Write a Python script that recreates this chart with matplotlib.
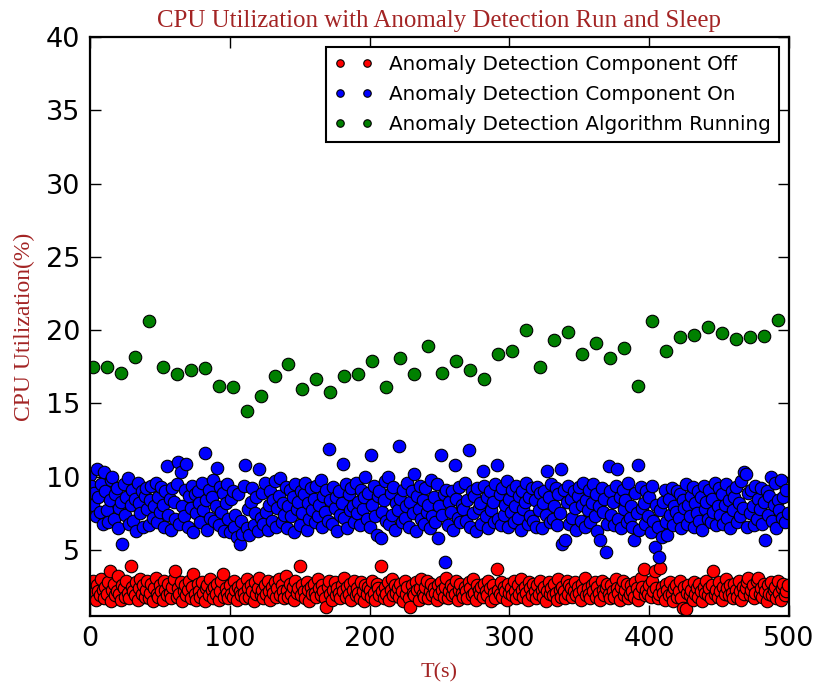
import numpy as np
import matplotlib
matplotlib.use('Agg')
import matplotlib.pyplot as plt

# time axis for the per-second samples, green samples every 10 s
seconds = np.arange(500)
run_seconds = np.arange(2, 500, 10)

cpu_off = [
    2.4, 1.8, 2.9, 2.1, 1.6, 2.6, 2.2, 1.9, 3.0, 2.3,
    1.7, 2.5, 2.0, 2.8, 3.6, 1.5, 2.3, 2.7, 1.9, 2.2,
    3.2, 2.0, 1.6, 2.6, 2.4, 1.8, 2.9, 2.1, 1.7, 3.9,
    2.5, 2.2, 1.9, 2.8, 1.6, 2.4, 3.0, 2.0, 2.6, 1.8,
    2.3, 2.9, 1.7, 2.1, 2.7, 1.5, 2.4, 3.1, 2.0, 1.8,
    2.6, 2.2, 1.6, 2.9, 2.3, 1.9, 2.7, 2.1, 1.7, 2.5,
    3.0, 3.6, 1.8, 2.4, 2.0, 2.8, 1.5, 2.2, 2.6, 1.9,
    2.3, 2.9, 1.7, 2.5, 3.4, 2.0, 1.6, 2.7, 2.2, 1.8,
    2.8, 2.1, 1.5, 2.4, 2.6, 1.9, 3.0, 2.3, 1.7, 2.5,
    2.0, 2.7, 1.6, 2.2, 2.9, 3.4, 1.8, 2.4, 2.1, 1.7,
    2.6, 2.0, 1.8, 2.9, 2.3, 1.6, 2.5, 2.2, 1.9, 2.7,
    2.1, 1.7, 3.0, 2.4, 1.8, 2.6, 2.2, 1.5, 2.8, 2.0,
    2.4, 3.1, 1.9, 2.3, 1.7, 2.6, 2.0, 2.9, 2.2, 1.6,
    2.5, 2.1, 2.8, 1.8, 2.4, 3.0, 1.9, 2.6, 2.2, 1.7,
    3.2, 2.3, 1.8, 2.7, 2.0, 2.5, 1.6, 2.9, 2.1, 2.4,
    3.9, 1.9, 2.6, 2.2, 1.7, 2.8, 2.3, 1.5, 2.5, 2.0,
    2.7, 2.1, 1.8, 3.0, 2.4, 1.9, 2.6, 2.2, 1.7, 1.1,
    2.5, 2.9, 2.0, 1.6, 2.3, 2.8, 1.9, 2.4, 2.1, 1.7,
    2.6, 2.2, 3.1, 1.8, 2.5, 2.0, 2.7, 1.6, 2.3, 2.9,
    1.9, 2.4, 2.1, 1.7, 2.8, 2.2, 1.5, 2.6, 2.0, 2.5,
    2.3, 1.8, 2.9, 2.1, 1.6, 2.7, 2.4, 1.9, 3.9, 2.2,
    1.7, 2.5, 2.0, 2.8, 1.6, 2.3, 3.0, 1.9, 2.6, 2.1,
    2.4, 1.8, 2.7, 2.2, 1.5, 2.9, 2.0, 2.5, 1.7, 1.1,
    2.6, 2.1, 1.9, 2.8, 2.3, 1.6, 2.4, 3.0, 2.0, 1.8,
    2.5, 2.9, 1.7, 2.2, 2.7, 1.9, 2.4, 2.1, 1.6, 2.6,
    2.0, 2.8, 2.3, 1.8, 2.5, 3.1, 1.7, 2.2, 2.6, 1.9,
    2.4, 2.0, 2.9, 1.6, 2.3, 2.7, 2.1, 1.8, 2.5, 2.2,
    1.7, 2.8, 2.4, 1.9, 3.0, 2.1, 1.6, 2.6, 2.3, 2.0,
    2.5, 1.8, 2.7, 2.2, 1.9, 2.9, 2.4, 1.5, 2.6, 2.1,
    1.7, 3.7, 2.3, 2.0, 2.8, 1.8, 2.5, 2.2, 1.6, 2.7,
    2.1, 2.4, 1.9, 2.9, 2.2, 1.7, 2.6, 2.0, 3.0, 2.3,
    1.8, 2.5, 2.1, 1.6, 2.8, 2.4, 1.9, 2.7, 2.2, 1.7,
    2.6, 2.0, 2.9, 2.3, 1.8, 2.5, 1.5, 2.2, 2.8, 2.0,
    2.4, 1.9, 2.7, 2.1, 1.6, 3.0, 2.3, 1.8, 2.5, 2.2,
    1.7, 2.9, 2.0, 2.6, 2.4, 1.8, 2.2, 2.8, 1.9, 2.5,
    2.1, 1.6, 2.7, 2.3, 3.1, 1.9, 2.4, 2.0, 1.7, 2.6,
    2.2, 2.8, 1.8, 2.5, 2.1, 1.6, 2.9, 2.3, 1.9, 2.4,
    2.7, 2.0, 1.7, 2.6, 2.2, 1.8, 3.0, 2.4, 2.1, 1.6,
    2.5, 2.9, 1.9, 2.3, 2.7, 1.7, 2.0, 2.6, 2.2, 1.8,
    2.8, 2.4, 1.6, 2.1, 3.1, 2.5, 3.7, 1.9, 2.3, 2.0,
    2.6, 1.8, 2.9, 2.2, 3.6, 2.4, 1.7, 2.0, 3.8, 2.5,
    2.1, 1.6, 2.7, 2.3, 1.9, 2.8, 2.0, 1.5, 2.4, 2.6,
    1.8, 2.2, 2.9, 1.7, 1.05, 2.5, 0.95, 2.1, 2.6, 1.9,
    2.3, 1.6, 2.8, 2.0, 2.4, 1.8, 2.7, 2.2, 1.5, 2.5,
    2.1, 2.9, 1.9, 2.4, 1.7, 2.6, 3.6, 2.0, 2.3, 1.8,
    2.8, 2.2, 1.6, 2.5, 2.0, 3.0, 2.4, 1.9, 2.6, 2.1,
    1.7, 2.7, 2.3, 1.8, 2.9, 2.2, 1.6, 2.5, 2.0, 2.4,
    2.8, 3.1, 1.9, 2.3, 2.6, 1.7, 2.1, 2.9, 3.1, 2.0,
    2.4, 1.8, 2.7, 2.2, 1.5, 2.6, 2.0, 2.8, 1.9, 2.3,
    2.5, 1.7, 2.9, 2.1, 1.6, 2.4, 2.7, 1.9, 2.2, 2.6,
]

cpu_on = [
    10.1, 9.4, 8.1, 8.9, 7.3, 10.5, 8.6, 7.6, 9.5, 6.8,
    10.3, 9.0, 7.7, 6.9, 8.4, 9.8, 10.0, 7.1, 8.8, 9.2,
    6.5, 7.9, 8.3, 5.4, 9.5, 7.4, 8.6, 9.9, 6.8, 8.1,
    9.1, 7.0, 8.5, 6.3, 9.6, 8.2, 7.5, 9.0, 6.6, 8.7,
    9.2, 7.8, 6.7, 8.4, 9.4, 7.2, 8.0, 9.6, 6.9, 8.6,
    7.6, 9.3, 8.1, 6.6, 9.0, 10.7, 7.4, 8.5, 6.4, 9.2,
    8.3, 7.1, 9.5, 11.0, 6.8, 10.3, 8.0, 7.3, 9.1, 10.9,
    6.6, 8.7, 7.9, 9.4, 6.2, 8.8, 7.5, 9.0, 8.2, 6.9,
    9.6, 7.7, 11.6, 8.4, 6.4, 9.1, 7.2, 8.6, 9.8, 7.0,
    8.0, 10.6, 6.7, 9.3, 7.6, 8.9, 6.3, 8.2, 9.5, 7.1,
    6.2, 8.5, 9.0, 6.6, 7.4, 5.9, 8.8, 5.4, 7.0, 6.1,
    9.4, 10.8, 6.5, 7.8, 6.0, 8.3, 9.2, 6.7, 7.5, 8.6,
    6.3, 10.5, 7.2, 8.9, 6.8, 9.6, 7.6, 6.4, 8.1, 9.0,
    7.0, 8.4, 9.7, 6.6, 7.9, 8.7, 9.9, 6.9, 8.2, 7.4,
    9.3, 6.5, 8.0, 9.1, 7.3, 8.6, 6.2, 9.5, 7.8, 8.3,
    6.7, 9.0, 7.5, 8.8, 9.6, 6.4, 8.2, 7.1, 9.2, 7.7,
    8.5, 6.9, 9.4, 7.3, 8.1, 9.8, 6.6, 8.7, 7.6, 9.1,
    7.0, 11.9, 8.4, 6.8, 9.3, 7.9, 8.6, 6.3, 9.0, 7.4,
    8.2, 10.9, 7.2, 9.5, 6.5, 8.8, 7.7, 9.2, 8.0, 6.9,
    9.6, 7.5, 8.3, 6.7, 9.1, 7.8, 8.6, 10.0, 7.1, 8.9,
    6.6, 11.5, 8.1, 9.4, 7.3, 6.0, 8.7, 9.0, 5.8, 7.6,
    8.4, 9.7, 7.0, 10.0, 6.8, 8.9, 7.4, 9.3, 6.4, 8.2,
    7.7, 12.1, 8.5, 6.9, 9.1, 7.2, 8.0, 9.6, 6.6, 8.3,
    9.0, 7.5, 10.2, 6.3, 8.7, 7.8, 9.4, 7.1, 8.4, 6.8,
    9.2, 7.6, 8.1, 6.5, 9.8, 7.3, 8.6, 6.9, 9.5, 5.8,
    8.0, 11.5, 7.4, 8.8, 4.2, 9.1, 6.7, 8.3, 7.6, 9.0,
    6.4, 10.8, 8.5, 7.2, 9.3, 6.9, 8.1, 7.8, 9.6, 7.0,
    8.4, 11.8, 6.6, 9.0, 7.5, 8.7, 6.3, 9.2, 7.9, 8.2,
    6.8, 10.4, 9.4, 7.3, 8.6, 6.5, 9.0, 7.7, 8.3, 6.9,
    9.5, 10.8, 7.1, 8.8, 6.7, 9.2, 7.4, 8.1, 9.7, 6.6,
    8.5, 7.6, 9.1, 6.9, 8.0, 9.4, 7.2, 8.7, 6.4, 9.0,
    7.8, 8.3, 9.6, 6.8, 8.6, 7.3, 9.2, 7.0, 8.4, 6.6,
    9.3, 7.7, 8.9, 6.5, 8.2, 9.0, 7.4, 10.4, 8.6, 6.9,
    9.5, 7.1, 8.0, 9.2, 6.7, 8.8, 7.5, 10.5, 5.4, 9.1,
    5.7, 8.3, 9.4, 6.8, 8.5, 7.2, 9.0, 7.9, 6.4, 8.7,
    9.3, 7.0, 8.1, 9.6, 6.6, 8.4, 7.7, 9.1, 6.9, 8.2,
    9.5, 7.3, 8.8, 6.3, 8.0, 5.7, 9.2, 7.6, 8.5, 4.9,
    6.8, 10.7, 9.0, 7.4, 8.3, 6.7, 9.4, 10.5, 7.1, 8.6,
    6.5, 9.1, 7.8, 8.4, 6.9, 9.6, 7.2, 8.0, 6.6, 5.7,
    8.9, 7.5, 10.8, 6.4, 9.3, 7.9, 8.2, 6.8, 9.0, 7.3,
    8.6, 6.2, 9.4, 7.0, 5.2, 8.1, 6.6, 4.5, 7.7, 5.9,
    8.3, 9.1, 6.9, 6.0, 8.5, 7.4, 9.2, 6.7, 8.0, 7.6,
    9.0, 7.2, 8.8, 6.5, 8.4, 7.9, 9.5, 6.8, 8.1, 7.3,
    8.7, 9.3, 6.6, 8.2, 7.5, 9.0, 7.0, 8.6, 6.4, 9.4,
    7.8, 8.3, 7.1, 9.1, 6.9, 8.5, 7.6, 9.6, 6.7, 8.0,
    9.2, 7.4, 8.8, 6.8, 8.1, 9.5, 7.2, 8.4, 6.5, 9.0,
    7.7, 8.6, 9.3, 6.9, 8.2, 7.3, 9.7, 7.9, 10.3, 10.2,
    6.6, 8.9, 7.5, 9.1, 8.0, 6.7, 9.4, 7.1, 8.5, 7.8,
    9.2, 6.8, 8.3, 5.7, 9.0, 7.4, 8.7, 10.0, 7.0, 8.1,
    9.6, 6.5, 8.4, 7.7, 9.8, 7.2, 8.6, 6.9, 9.1, 7.5,
]

cpu_running = [
    17.5, 17.5, 17.1, 18.2, 20.6, 17.5, 17.0, 17.3, 17.4, 16.2,
    16.1, 14.5, 15.5, 16.9, 17.7, 16.0, 16.7, 15.8, 16.9, 17.0,
    17.9, 16.1, 18.1, 17.0, 18.9, 17.1, 17.9, 17.3, 16.7, 18.4,
    18.6, 20.0, 17.5, 19.3, 19.9, 18.4, 19.1, 18.1, 18.8, 16.2,
    20.6, 18.6, 19.5, 19.7, 20.2, 19.8, 19.4, 19.5, 19.6, 20.7,
]

labels = ['Anomaly Detection Component Off',
          'Anomaly Detection Component On',
          'Anomaly Detection Algorithm Running']
colors = ['r', 'b', 'g']
title_color = '#a32424'

fig = plt.figure(figsize=(8.18, 6.85), dpi=100)
ax = fig.add_axes([0.110, 0.1007, 0.8545, 0.8453])

series = [(seconds, cpu_off), (seconds, cpu_on), (run_seconds, cpu_running)]
for (xs, ys), c, lab in zip(series, colors, labels):
    ax.plot(xs, ys, linestyle='none', marker='o', markersize=9,
            markerfacecolor=c, markeredgecolor='k', markeredgewidth=0.8,
            label=lab)

ax.set_xlim(0, 500)
ax.set_ylim(0.5, 40)
ax.set_xticks([0, 100, 200, 300, 400, 500])
ax.set_yticks([5, 10, 15, 20, 25, 30, 35, 40])
ax.tick_params(direction='in', top=True, right=True, length=8, width=1,
               labelsize=19.5, pad=7)
for s in ax.spines.values():
    s.set_linewidth(1.6)

serif = 'Liberation Serif'
ax.set_title('CPU Utilization with Anomaly Detection Run and Sleep',
             fontfamily=serif, fontsize=17.9, color=title_color, pad=7)
ax.set_xlabel('T(s)', fontfamily=serif, fontsize=16, color=title_color, labelpad=8)
ax.set_ylabel('CPU Utilization(%)', fontfamily=serif, fontsize=17,
              color=title_color, labelpad=8)

leg = ax.legend(loc='upper right', numpoints=2, markerscale=0.6, fontsize=14.3,
                handlelength=2.0, handletextpad=0.8, borderpad=0.4,
                labelspacing=0.55, fancybox=False, framealpha=1)
leg.get_frame().set_edgecolor('k')
leg.get_frame().set_linewidth(1.5)

fig.savefig('out.png', dpi=100)
